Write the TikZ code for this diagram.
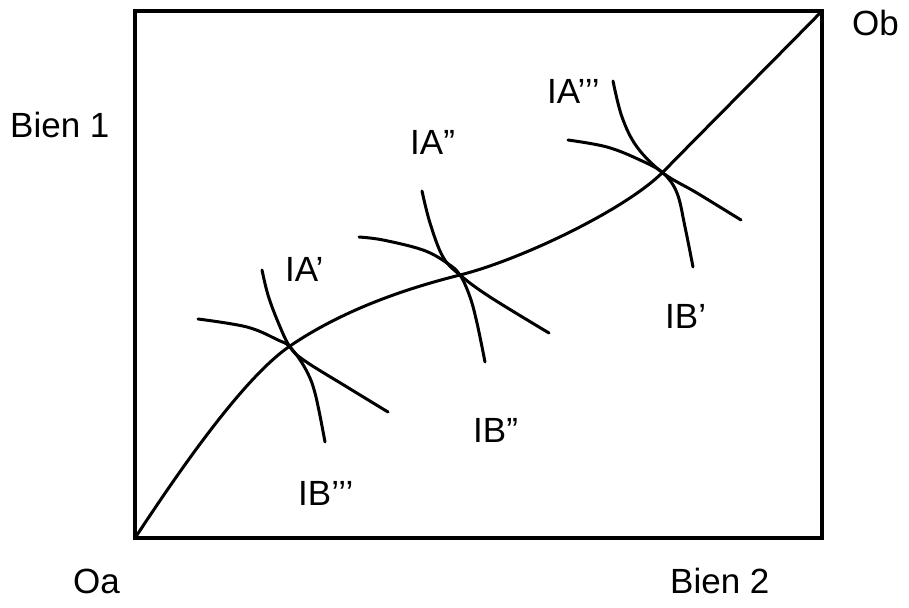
\documentclass[tikz,border=0pt]{standalone}
\usepackage{fontspec}
\setmainfont{Liberation Sans}
\begin{document}
\begin{tikzpicture}[x=1pt,y=-1pt,
  lbl/.style={anchor=base west,inner sep=0pt,font=\fontsize{35}{40}\selectfont},
  curve/.style={line width=3pt,line cap=round,line join=round}]
\useasboundingbox (0,0) rectangle (909,607);
\fill[white] (0,0) rectangle (909,607);
% box
\coordinate (Oa) at (135,538);
\coordinate (Ob) at (822,11);
\draw[line width=3.4pt] (Oa) rectangle (Ob);
% contract curve
\coordinate (P1) at (290,346);
\coordinate (P2) at (460,275);
\coordinate (P3) at (663,172);
\draw[curve] (Oa) .. controls (170,485) and (240,380) .. (P1)
  .. controls (340,312) and (400,290) .. (P2)
  .. controls (520,260) and (625,210) .. (P3)
  .. controls (715,119) and (770,64) .. (Ob);
% cross 1
\draw[curve] plot[smooth,tension=0.6] coordinates {(262,270) (268,295) (278,322) (290,347) (305,361) (347,387) (388,412)};
\draw[curve] plot[smooth,tension=0.6] coordinates {(198,319) (247,327) (278,340) (290,347) (305,368) (315,393) (325,442)};
% cross 2
\draw[curve] plot[smooth,tension=0.6] coordinates {(422,191) (430,223) (443,257) (460,275) (490,297) (549,333)};
\draw[curve] plot[smooth,tension=0.6] coordinates {(359,237) (383,240) (423,250) (447,263) (460,275) (470,297) (477,323) (485,362)};
% cross 3
\draw[curve] plot[smooth,tension=0.6] coordinates {(613,81) (622,117) (637,147) (663,173) (697,193) (741,220)};
\draw[curve] plot[smooth,tension=0.6] coordinates {(568,140) (607,147) (640,160) (663,173) (677,193) (685,227) (693,267)};
% labels
\node[lbl] (b1) at (10,137) {Bien 1};
\node[lbl] (b2) at (670,593) {Bien 2};
\node[lbl] (oa) at (73,593) {Oa};
\node[lbl] (ob) at (852,36) {Ob};
\node[lbl] (ia1) at (285,281) {IA’};
\node[lbl] (ia2) at (410,154) {IA”};
\node[lbl] (ia3) at (547,104) {IA’’’};
\node[lbl] (ib3) at (298,505) {IB’’’};
\node[lbl] (ib2) at (473,442) {IB”};
\node[lbl] (ib1) at (665,328) {IB’};
\end{tikzpicture}
\end{document}
